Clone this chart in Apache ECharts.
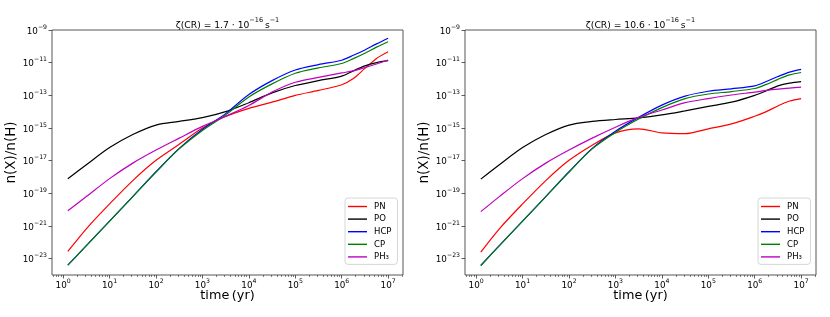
<!DOCTYPE html>
<html><head><meta charset="utf-8">
<script src="https://cdn.jsdelivr.net/npm/echarts@6/dist/echarts.min.js"></script>
<style>html,body{margin:0;padding:0;background:#fff}#c{width:830px;height:317px}</style>
</head><body><div id="c"></div>
<script>
// ---- data ----
const timeYr = [1.26, 3.16, 10, 31.6, 100, 316, 1000, 3160, 1e4, 3.16e4, 1e5, 3.16e5, 1e6, 1.78e6, 3.16e6, 5.62e6, 1e7];
const speciesNames = ['PN', 'PO', 'HCP', 'CP', 'PH\u2083'];
// log10 n(X)/n(H), zeta(CR) = 1.7e-16 s^-1
const pnLow  = [-22.56, -21.17, -19.65, -18.22, -16.98, -16.0, -15.0, -14.3, -13.8, -13.42, -13.0, -12.7, -12.35, -11.97, -11.35, -10.74, -10.33];
const poLow  = [-18.11, -17.25, -16.2, -15.4, -14.82, -14.6, -14.37, -14.0, -13.45, -12.85, -12.4, -12.1, -11.82, -11.5, -11.2, -11.0, -10.88];
const hcpLow = [-23.4, -22.2, -20.7, -19.2, -17.68, -16.25, -15.08, -14.12, -12.95, -12.1, -11.45, -11.12, -10.85, -10.55, -10.22, -9.85, -9.5];
const cpLow  = [-23.4, -22.2, -20.7, -19.2, -17.7, -16.28, -15.15, -14.2, -13.1, -12.3, -11.65, -11.32, -11.05, -10.75, -10.42, -10.05, -9.72];
const ph3Low = [-20.07, -19.2, -18.1, -17.15, -16.35, -15.62, -14.9, -14.28, -13.62, -12.8, -12.2, -11.9, -11.63, -11.5, -11.3, -11.08, -10.84];
// log10 n(X)/n(H), zeta(CR) = 10.6e-16 s^-1
const pnHigh  = [-22.6, -21.17, -19.65, -18.22, -16.98, -16.05, -15.3, -15.05, -15.3, -15.35, -15.05, -14.75, -14.28, -14.0, -13.65, -13.35, -13.2];
const poHigh  = [-18.13, -17.25, -16.2, -15.4, -14.82, -14.6, -14.48, -14.38, -14.2, -13.95, -13.68, -13.42, -13.0, -12.72, -12.42, -12.25, -12.16];
const hcpHigh = [-23.42, -22.2, -20.7, -19.2, -17.68, -16.25, -15.2, -14.35, -13.6, -13.05, -12.75, -12.6, -12.42, -12.15, -11.85, -11.58, -11.41];
const cpHigh  = [-23.42, -22.2, -20.7, -19.2, -17.7, -16.28, -15.27, -14.45, -13.75, -13.2, -12.92, -12.77, -12.58, -12.33, -12.02, -11.75, -11.6];
const ph3High = [-20.12, -19.2, -18.1, -17.15, -16.35, -15.62, -14.95, -14.35, -13.9, -13.45, -13.2, -12.98, -12.8, -12.7, -12.62, -12.56, -12.5];
const xTickValues = [1, 10, 100, 1e3, 1e4, 1e5, 1e6, 1e7];
const yTickValues = [1e-23, 1e-21, 1e-19, 1e-17, 1e-15, 1e-13, 1e-11, 1e-9];
const zetaValues = ['1.7', '10.6'];

// ---- styling / layout ----
const FONT = 'DejaVu Sans';
const colors = ['#ff0000', '#000000', '#0000ff', '#008000', '#bf00bf'];
const panels = [[pnLow, poLow, hcpLow, cpLow, ph3Low], [pnHigh, poHigh, hcpHigh, cpHigh, ph3High]];
const grids = [
  {left: 52, top: 30, width: 351, height: 245},
  {left: 465, top: 30, width: 351, height: 245}
];
const X_MIN = 0.575, X_MAX = 2.09e7, Y_MIN = 1e-24, Y_MAX = 1e-9;
const minorX = [];
for (let e = -1; e <= 7; e++) for (let k = 2; k <= 9; k++) {
  const v = k * Math.pow(10, e);
  if (v >= X_MIN && v <= X_MAX) minorX.push(v);
}
function supLabel(v) {
  const e = Math.round(Math.log10(v));
  return '{b|10}{s|' + (e < 0 ? '\u2212' + (-e) : e) + '}';
}
const richTick = {
  b: {fontSize: 8.8, fontFamily: FONT, color: '#000', lineHeight: 12, verticalAlign: 'bottom'},
  s: {fontSize: 6.2, fontFamily: FONT, color: '#000', lineHeight: 8, verticalAlign: 'top'}
};
const richTitle = {
  t: {fontSize: 9.2, fontFamily: FONT, fontWeight: 'normal', color: '#000', lineHeight: 13, verticalAlign: 'bottom'},
  s: {fontSize: 6.5, fontFamily: FONT, fontWeight: 'normal', color: '#000', lineHeight: 8, verticalAlign: 'top'}
};

const xAxes = [], yAxes = [], series = [], legends = [], titles = [];
grids.forEach((g, gi) => {
  titles.push({
    text: '{t|\u03b6(CR) = ' + zetaValues[gi] + ' \u00b7 10}{s|\u221216}{t|\u2009s}{s|\u22121}',
    left: g.left + g.width / 2, top: 17, textAlign: 'center', padding: 0,
    textStyle: {fontWeight: 'normal', fontFamily: FONT, rich: richTitle}
  });
  xAxes.push({
    type: 'log', gridIndex: gi, min: X_MIN, max: X_MAX,
    name: 'time\u2009(yr)', nameLocation: 'middle', nameGap: 14, nameMoveOverlap: false,
    nameTextStyle: {fontFamily: FONT, fontSize: 12.8, color: '#000'},
    axisLine: {show: false},
    axisTick: {show: true, inside: false, length: 3.5, customValues: xTickValues, lineStyle: {color: '#333', width: 0.8}},
    axisLabel: {show: true, margin: 3, customValues: xTickValues, formatter: supLabel, rich: richTick},
    splitLine: {show: false}, minorTick: {show: false}
  });
  xAxes.push({
    type: 'log', gridIndex: gi, min: X_MIN, max: X_MAX, position: 'bottom',
    axisLine: {show: false},
    axisTick: {show: true, inside: false, length: 2, customValues: minorX, lineStyle: {color: '#333', width: 0.6}},
    axisLabel: {show: false}, splitLine: {show: false}
  });
  yAxes.push({
    type: 'log', gridIndex: gi, min: Y_MIN, max: Y_MAX,
    name: 'n(X)/n(H)', nameLocation: 'middle', nameGap: 28, nameRotate: 90,
    nameTextStyle: {fontFamily: FONT, fontSize: 13.5, color: '#000'},
    axisLine: {show: false},
    axisTick: {show: true, inside: false, length: 3.5, customValues: yTickValues, lineStyle: {color: '#333', width: 0.8}},
    axisLabel: {show: true, margin: 5, customValues: yTickValues, formatter: supLabel, rich: richTick},
    splitLine: {show: false}
  });
  panels[gi].forEach((arr, si) => {
    series.push({
      name: speciesNames[si], type: 'line', xAxisIndex: gi * 2, yAxisIndex: gi,
      data: timeYr.map((t, i) => [t, Math.pow(10, arr[i])]),
      smooth: 0.3, symbol: 'none', showSymbol: false,
      lineStyle: {color: colors[si], width: 1.2}, itemStyle: {color: colors[si]},
      emphasis: {disabled: true}, animation: false
    });
  });
  legends.push({
    orient: 'vertical', left: g.left + 293, top: 198,
    data: speciesNames, icon: 'rect', itemWidth: 19, itemHeight: 1.4, itemGap: 3.6,
    textStyle: {fontFamily: FONT, fontSize: 8.5, color: '#000', padding: [0, 0, 0, 2]},
    backgroundColor: '#fff', borderColor: '#cccccc', borderWidth: 0.8, borderRadius: 3,
    padding: [4, 6, 3, 3]
  });
});

const chart = echarts.init(document.getElementById('c'), null, {renderer: 'canvas'});
chart.setOption({
  backgroundColor: '#fff',
  animation: false,
  title: titles,
  grid: grids.map(g => Object.assign({show: true, borderColor: '#444', borderWidth: 0.9, backgroundColor: 'transparent', containLabel: false}, g)),
  xAxis: xAxes, yAxis: yAxes, legend: legends, series: series
});
</script></body></html>
